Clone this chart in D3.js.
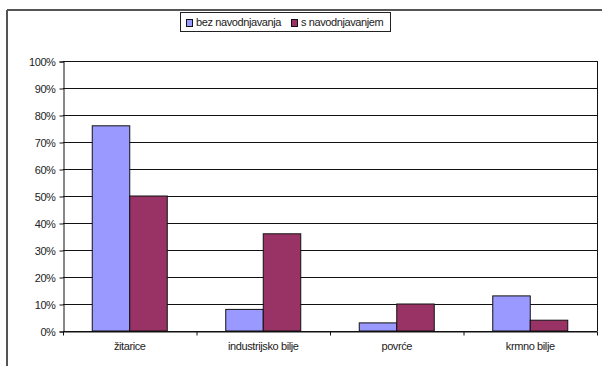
<!DOCTYPE html>
<html>
<head>
<meta charset="utf-8">
<script src="https://cdnjs.cloudflare.com/ajax/libs/d3/7.8.5/d3.min.js"></script>
<style>
  body { margin: 0; background: #fff; }
  svg text { font-family: "Liberation Sans", Arial, sans-serif; fill: #222; letter-spacing: -0.4px; }
</style>
</head>
<body>
<svg id="chart" width="602" height="366"></svg>
<script>
let width = 602, height = 366;

// data
let categories = ["žitarice", "industrijsko bilje", "povrće", "krmno bilje"];
let seriesNames = ["bez navodnjavanja", "s navodnjavanjem"];
let bezValues = [76, 8, 3, 13];
let sValues = [50, 36, 10, 4];
let yTicks = [0, 10, 20, 30, 40, 50, 60, 70, 80, 90, 100];

let colors = ["#9999ff", "#993366"];
let margin = {left: 63, right: 5, top: 61, bottom: 35};

var svg = d3.select('#chart');

// outer frame (only top and left visible)
svg.append('line').attr('x1', 7).attr('x2', width).attr('y1', 10).attr('y2', 10)
    .attr('stroke', '#555').attr('stroke-width', 2);
svg.append('line').attr('x1', 7).attr('x2', 7).attr('y1', 10).attr('y2', height)
    .attr('stroke', '#555').attr('stroke-width', 2);

var x = d3.scaleBand()
    .domain(categories)
    .range([margin.left, width - margin.right])
    .paddingInner(0).paddingOuter(0);

var x1 = d3.scaleBand()
    .domain(seriesNames)
    .range([0, x.bandwidth()])
    .paddingInner(0)
    .paddingOuter(0.78);

var y = d3.scaleLinear()
    .domain([0, 100])
    .range([height - margin.bottom, margin.top]);

// gridlines
svg.append('g')
    .selectAll('line')
    .data(yTicks)
    .enter().append('line')
    .attr('x1', margin.left)
    .attr('x2', width - margin.right)
    .attr('y1', (d) => Math.round(y(d)) + 0.5)
    .attr('y2', (d) => Math.round(y(d)) + 0.5)
    .attr('stroke', '#111')
    .attr('stroke-width', 1);

// right border of plot
svg.append('line')
    .attr('x1', width - margin.right + 0.5).attr('x2', width - margin.right + 0.5)
    .attr('y1', y(100)).attr('y2', y(0))
    .attr('stroke', '#111');

// y axis
var yAxis = d3.axisLeft(y)
    .tickValues(yTicks)
    .tickFormat((d) => d + "%")
    .tickSize(4)
    .tickPadding(3);

var gy = svg.append('g')
    .attr('transform', 'translate(' + (margin.left + 0.5) + ',0.5)')
    .call(yAxis);
gy.selectAll('text').style('font-size', '11px').attr('dx', '-1');
gy.selectAll('line, path').attr('stroke', '#111');

// bars
var groups = svg.append('g')
    .selectAll('g')
    .data(categories)
    .enter().append('g')
    .attr('transform', (d) => 'translate(' + x(d) + ',0)');

groups.selectAll('rect')
    .data(function(d, i) {
        return [
            {series: seriesNames[0], value: bezValues[i], color: colors[0]},
            {series: seriesNames[1], value: sValues[i], color: colors[1]}
        ];
    })
    .enter().append('rect')
    .attr('x', (d) => x1(d.series))
    .attr('y', (d) => y(d.value))
    .attr('width', x1.bandwidth())
    .attr('height', (d) => y(0) - y(d.value))
    .attr('fill', (d) => d.color)
    .attr('stroke', '#111')
    .attr('stroke-width', 1);

// x axis
var xAxis = d3.axisBottom(x)
    .tickSize(0)
    .tickPadding(11);

var gx = svg.append('g')
    .attr('transform', 'translate(0,' + (y(0) + 0.5) + ')')
    .call(xAxis);
gx.select('.domain').attr('stroke', '#111');
gx.selectAll('text').style('font-size', '11px');

// category separator ticks
gx.append('g')
    .selectAll('line')
    .data(categories.concat(['end']))
    .enter().append('line')
    .attr('x1', (d, i) => margin.left + i * x.bandwidth() + 0.5)
    .attr('x2', (d, i) => margin.left + i * x.bandwidth() + 0.5)
    .attr('y1', 0)
    .attr('y2', 4)
    .attr('stroke', '#111');

// legend
var legend = svg.append('g');
legend.append('rect')
    .attr('x', 180.5).attr('y', 12.5)
    .attr('width', 210).attr('height', 19)
    .attr('fill', '#fff')
    .attr('stroke', '#222');

var legendX = [186, 291];
var items = legend.selectAll('g.item')
    .data(seriesNames)
    .enter().append('g')
    .attr('class', 'item')
    .attr('transform', (d, i) => 'translate(' + legendX[i] + ',0)');

items.append('rect')
    .attr('x', 0.5).attr('y', 19.5)
    .attr('width', 6).attr('height', 7)
    .attr('fill', (d, i) => colors[i])
    .attr('stroke', '#111');

items.append('text')
    .attr('x', 10)
    .attr('y', 26)
    .style('font-size', '11px')
    .text((d) => d);
</script>
</body>
</html>
